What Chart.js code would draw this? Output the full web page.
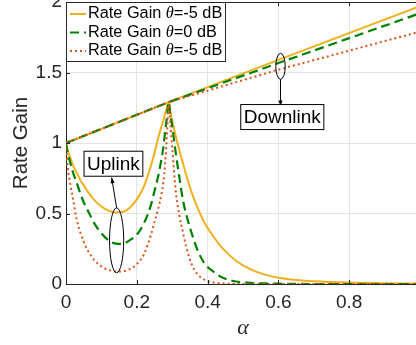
<!DOCTYPE html>
<html lang="en">
<head>
    <meta charset="UTF-8">
    <title>Rate Gain vs alpha</title>
    <script src="https://cdn.jsdelivr.net/npm/chart.js"></script>
    <style>
        html, body { margin: 0; padding: 0; background: #fff; overflow: hidden; }
        #wrap { width: 430px; height: 345px; }
    </style>
</head>
<body>
    <div id="wrap"><canvas id="gainChart" width="430" height="345"></canvas></div>

    <script>
        // alpha samples for the uplink curves
        const upAlpha = [0, 0.005, 0.01, 0.02, 0.03, 0.04, 0.05, 0.06, 0.08, 0.1, 0.12, 0.14, 0.16, 0.18,
            0.2, 0.22, 0.24, 0.25, 0.26, 0.27, 0.275, 0.28, 0.285, 0.29, 0.295, 0.3, 0.31, 0.32, 0.33,
            0.34, 0.355, 0.37, 0.39, 0.41, 0.44, 0.48, 0.52, 0.56, 0.6, 0.65, 0.7, 0.8, 0.9, 1.0];

        const upYellow = [1.0, 0.95, 0.91, 0.84, 0.79, 0.74, 0.70, 0.66, 0.595, 0.55, 0.52, 0.507, 0.51, 0.54,
            0.60, 0.69, 0.84, 0.93, 1.03, 1.12, 1.16, 1.21, 1.25, 1.29, 1.22, 1.16, 1.05, 0.95, 0.86,
            0.77, 0.65, 0.55, 0.44, 0.36, 0.26, 0.165, 0.105, 0.068, 0.045, 0.029, 0.02, 0.01, 0.005, 0.003];

        const upGreen = [1.0, 0.93, 0.88, 0.79, 0.72, 0.645, 0.58, 0.53, 0.43, 0.36, 0.31, 0.287, 0.285, 0.31,
            0.35, 0.43, 0.56, 0.66, 0.76, 0.89, 0.97, 1.08, 1.18, 1.29, 1.2, 1.12, 0.93, 0.76, 0.60,
            0.49, 0.36, 0.25, 0.15, 0.10, 0.048, 0.018, 0.008, 0.004, 0.002, 0.001, 0, 0, 0, 0];

        const upRed = [1.0, 0.82, 0.74, 0.60, 0.46, 0.37, 0.30, 0.245, 0.17, 0.125, 0.10, 0.088, 0.09, 0.105,
            0.14, 0.21, 0.35, 0.44, 0.53, 0.64, 0.72, 0.85, 1.05, 1.27, 1.13, 0.97, 0.66, 0.49, 0.37,
            0.26, 0.14, 0.074, 0.032, 0.014, 0.005, 0.001, 0, 0, 0, 0, 0, 0, 0, 0];

        // downlink curves are straight segments
        const downAlpha = [0, 0.29, 0.6, 1.0];
        const downYellow = [1.0, 1.29, 1.59, 1.97];
        const downGreen = [1.0, 1.29, 1.567, 1.92];
        const downRed = [1.0, 1.29, 1.52, 1.79];

        const legendNames = ["\u03b8=-5 dB", "\u03b8=0 dB", "\u03b8=-5 dB"];
        const xTicks = [0, 0.2, 0.4, 0.6, 0.8, 1];
        const yTicks = [0, 0.5, 1, 1.5, 2];

        const COLORS = ["#EDB120", "#008000", "#D95319"];
        const DASHES = [[], [9, 5], [2, 3]];
        const WIDTHS = [2, 2.2, 2];
        const ORDER = [3, 2, 1];
        const FONT = "'Liberation Sans', Arial, sans-serif";
        const INK = "#262626";

        function pts(xs, ys) {
            return xs.map((x, i) => ({ x: x, y: ys[i] }));
        }

        const upSeries = [upYellow, upGreen, upRed];
        const downSeries = [downYellow, downGreen, downRed];
        let datasets = [];
        for (let i = 0; i < 3; i++) {
            datasets.push({
                label: "Rate Gain " + legendNames[i],
                data: pts(upAlpha, upSeries[i]),
                borderColor: COLORS[i], borderWidth: WIDTHS[i], borderDash: DASHES[i],
                pointRadius: 0, cubicInterpolationMode: "monotone", order: ORDER[i], fill: false
            });
            datasets.push({
                label: "down" + i,
                data: pts(downAlpha, downSeries[i]),
                borderColor: COLORS[i], borderWidth: WIDTHS[i], borderDash: DASHES[i],
                pointRadius: 0, tension: 0, order: ORDER[i], fill: false
            });
        }

        function arrow(ctx, x1, y1, x2, y2) {
            ctx.beginPath();
            ctx.moveTo(x1, y1);
            ctx.lineTo(x2, y2);
            ctx.stroke();
            const a = Math.atan2(y2 - y1, x2 - x1);
            ctx.beginPath();
            ctx.moveTo(x2, y2);
            ctx.lineTo(x2 - 6 * Math.cos(a - 0.35), y2 - 6 * Math.sin(a - 0.35));
            ctx.lineTo(x2 - 6 * Math.cos(a + 0.35), y2 - 6 * Math.sin(a + 0.35));
            ctx.closePath();
            ctx.fill();
        }

        function textBox(ctx, label, cx, cy) {
            ctx.font = "19px " + FONT;
            const w = ctx.measureText(label).width + 6;
            const h = 25;
            ctx.fillStyle = "#fff";
            ctx.fillRect(cx - w / 2, cy - h / 2, w, h);
            ctx.strokeStyle = "#000";
            ctx.lineWidth = 1;
            ctx.strokeRect(cx - w / 2, cy - h / 2, w, h);
            ctx.fillStyle = "#000";
            ctx.textAlign = "center";
            ctx.textBaseline = "middle";
            ctx.fillText(label, cx, cy + 1);
        }

        const extras = {
            id: "extras",
            afterDatasetsDraw(chart) {
                const ctx = chart.ctx;
                const xs = chart.scales.x, ys = chart.scales.y;
                const area = chart.chartArea;
                ctx.save();

                // box top line and inward ticks
                ctx.strokeStyle = INK;
                ctx.lineWidth = 1;
                ctx.beginPath();
                ctx.moveTo(area.left, area.top + 0.5);
                ctx.lineTo(area.right, area.top + 0.5);
                xTicks.forEach(v => {
                    const px = Math.round(xs.getPixelForValue(v)) + 0.5;
                    ctx.moveTo(px, area.bottom); ctx.lineTo(px, area.bottom - 4);
                    ctx.moveTo(px, area.top); ctx.lineTo(px, area.top + 4);
                });
                yTicks.forEach(v => {
                    const py = Math.round(ys.getPixelForValue(v)) + 0.5;
                    ctx.moveTo(area.left, py); ctx.lineTo(area.left + 4, py);
                });
                ctx.stroke();

                // annotations
                ctx.strokeStyle = "#000";
                ctx.fillStyle = "#000";
                ctx.lineWidth = 1;
                ctx.beginPath();
                ctx.ellipse(xs.getPixelForValue(0.143), ys.getPixelForValue(0.31),
                    xs.getPixelForValue(0.02) - xs.getPixelForValue(0),
                    ys.getPixelForValue(0) - ys.getPixelForValue(0.23), 0, 0, Math.PI * 2);
                ctx.stroke();
                arrow(ctx, xs.getPixelForValue(0.143), ys.getPixelForValue(0.54),
                    xs.getPixelForValue(0.129), ys.getPixelForValue(0.755));
                ctx.beginPath();
                ctx.ellipse(xs.getPixelForValue(0.606), ys.getPixelForValue(1.544),
                    xs.getPixelForValue(0.0133) - xs.getPixelForValue(0),
                    ys.getPixelForValue(0) - ys.getPixelForValue(0.092), 0, 0, Math.PI * 2);
                ctx.stroke();
                arrow(ctx, xs.getPixelForValue(0.606), ys.getPixelForValue(1.452),
                    xs.getPixelForValue(0.606), ys.getPixelForValue(1.262));
                textBox(ctx, "Uplink", xs.getPixelForValue(0.134), ys.getPixelForValue(0.853));
                textBox(ctx, "Downlink", xs.getPixelForValue(0.611), ys.getPixelForValue(1.184));

                // legend
                const lx = area.left, ly = area.top, lw = 159, lh = 59;
                ctx.fillStyle = "#fff";
                ctx.fillRect(lx, ly, lw, lh);
                ctx.strokeStyle = INK;
                ctx.strokeRect(lx + 0.5, ly + 0.5, lw, lh);
                for (let i = 0; i < 3; i++) {
                    const ry = ly + 12 + i * 18.5;
                    ctx.strokeStyle = COLORS[i];
                    ctx.lineWidth = WIDTHS[i];
                    ctx.setLineDash(DASHES[i]);
                    ctx.beginPath();
                    ctx.moveTo(lx + 4, ry); ctx.lineTo(lx + 20, ry);
                    ctx.stroke();
                    ctx.setLineDash([]);
                    ctx.fillStyle = "#000";
                    ctx.textAlign = "left";
                    ctx.textBaseline = "middle";
                    let tx = lx + 22;
                    const parts = legendNames[i].split("\u03b8");
                    ctx.font = "16.3px " + FONT;
                    ctx.fillText("Rate Gain ", tx, ry);
                    tx += ctx.measureText("Rate Gain ").width;
                    ctx.font = "italic 16.3px 'Liberation Serif', serif";
                    ctx.fillText("\u03b8", tx, ry);
                    tx += ctx.measureText("\u03b8").width;
                    ctx.font = "16.3px " + FONT;
                    ctx.fillText(parts[1], tx, ry);
                }
                ctx.restore();
            }
        };

        new Chart(document.getElementById("gainChart"), {
            type: "line",
            data: { datasets: datasets },
            options: {
                responsive: false,
                animation: false,
                layout: { padding: { top: 2, right: 10, left: 0, bottom: 0 } },
                plugins: { legend: { display: false }, tooltip: { enabled: false } },
                scales: {
                    x: {
                        type: "linear", min: 0, max: 1,
                        afterBuildTicks: s => { s.ticks = xTicks.map(v => ({ value: v })); },
                        afterFit: s => { s.height = 61; s.paddingLeft = 0; s.paddingRight = 0; },
                        grid: { color: "#e3e3e3", tickLength: 0, drawTicks: false },
                        border: { color: INK, width: 1 },
                        ticks: { color: INK, font: { size: 19, family: FONT }, padding: 7, maxRotation: 0,
                            callback: v => String(v) },
                        title: {
                            display: true, text: "\u03b1", color: INK,
                            font: { size: 22, style: "italic", family: "'Liberation Serif', serif" },
                            padding: { top: 0, bottom: 4 }
                        }
                    },
                    y: {
                        min: 0, max: 2,
                        afterBuildTicks: s => { s.ticks = yTicks.map(v => ({ value: v })); },
                        afterFit: s => { s.width = 66; s.paddingTop = 0; s.paddingBottom = 0; },
                        grid: { color: "#e3e3e3", tickLength: 0, drawTicks: false },
                        border: { color: INK, width: 1 },
                        ticks: { color: INK, font: { size: 19, family: FONT }, padding: 4,
                            callback: v => String(v) },
                        title: {
                            display: true, text: "Rate Gain", color: INK,
                            font: { size: 20.5, family: FONT }, padding: { top: 9, bottom: 0 }
                        }
                    }
                }
            },
            plugins: [extras]
        });
    </script>
</body>
</html>
